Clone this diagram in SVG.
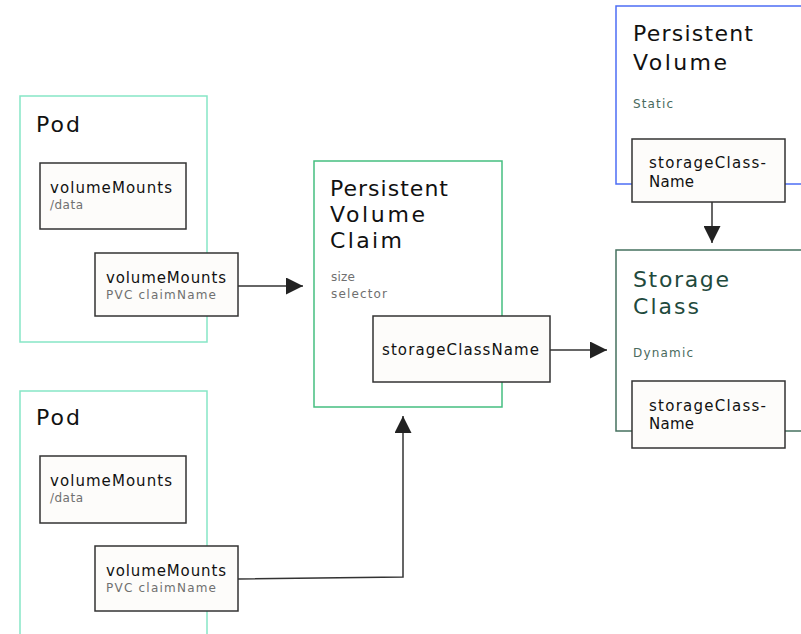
<svg xmlns="http://www.w3.org/2000/svg" width="801" height="634" viewBox="0 0 801 634">
  <defs>
    <marker id="arrow" viewBox="0 0 10 10" refX="10" refY="5" markerWidth="17" markerHeight="17" markerUnits="userSpaceOnUse" orient="auto">
      <path d="M0,0 L10,5 L0,10 z" fill="#222"/>
    </marker>
    <style>
      text { font-family: "DejaVu Sans", "Open Sans", sans-serif; }
      .frame { fill: none; stroke-width: 1.5; }
      .pod { stroke: #86e6c6; }
      .pvc { stroke: #45be80; }
      .pv { stroke: #4d6ef5; }
      .sc { stroke: #46715f; }
      .field { fill: #fdfcfa; stroke: #333; stroke-width: 1.5; }
      .title { font-size: 22px; fill: #111; }
      .title-sc { font-size: 22px; fill: #1f4a3d; }
      .key { font-size: 15px; fill: #111; }
      .sub { font-size: 12px; fill: #707070; }
      .sub-dark { font-size: 12px; fill: #4a6a5e; }
      .conn { fill: none; stroke: #333; stroke-width: 1.5; }
    </style>
  </defs>
  <rect width="801" height="634" fill="#ffffff"/>

  <!-- Pod (top) -->
  <g id="pod-1">
    <rect class="frame pod" x="20" y="96" width="187" height="246"/>
    <text class="title" x="36" y="132" textLength="44">Pod</text>
    <rect class="field" x="40" y="163" width="146" height="66"/>
    <text class="key" x="50" y="193" textLength="122">volumeMounts</text>
    <text class="sub" x="50" y="209" textLength="33">/data</text>
    <rect class="field" x="95" y="253" width="143" height="63"/>
    <text class="key" x="106" y="283" textLength="120">volumeMounts</text>
    <text class="sub" x="106" y="299" textLength="110">PVC claimName</text>
  </g>

  <!-- Pod (bottom) -->
  <g id="pod-2">
    <rect class="frame pod" x="20" y="391" width="187" height="260"/>
    <text class="title" x="36" y="425" textLength="44">Pod</text>
    <rect class="field" x="40" y="456" width="146" height="67"/>
    <text class="key" x="50" y="486" textLength="122">volumeMounts</text>
    <text class="sub" x="50" y="502" textLength="33">/data</text>
    <rect class="field" x="95" y="546" width="143" height="65"/>
    <text class="key" x="106" y="576" textLength="120">volumeMounts</text>
    <text class="sub" x="106" y="592" textLength="110">PVC claimName</text>
  </g>

  <!-- PersistentVolumeClaim -->
  <g id="pvc">
    <rect class="frame pvc" x="314" y="161" width="188" height="246"/>
    <text class="title" x="330" y="196" textLength="118">Persistent</text>
    <text class="title" x="330" y="222" textLength="95">Volume</text>
    <text class="title" x="330" y="248" textLength="72">Claim</text>
    <text class="sub" x="331" y="281" textLength="24">size</text>
    <text class="sub" x="331" y="298" textLength="56">selector</text>
    <rect class="field" x="373" y="316" width="177" height="66"/>
    <text class="key" x="382" y="355" textLength="157">storageClassName</text>
  </g>

  <!-- PersistentVolume -->
  <g id="pv">
    <rect class="frame pv" x="616" y="6" width="200" height="178"/>
    <text class="title" x="633" y="41" textLength="120">Persistent</text>
    <text class="title" x="633" y="70" textLength="94">Volume</text>
    <text class="sub-dark" x="633" y="108" textLength="40">Static</text>
    <rect class="field" x="632" y="139" width="153" height="63"/>
    <text class="key" x="649" y="168" textLength="117">storageClass-</text>
    <text class="key" x="649" y="187" textLength="45">Name</text>
  </g>

  <!-- StorageClass -->
  <g id="storage-class">
    <rect class="frame sc" x="616" y="250" width="200" height="181"/>
    <text class="title-sc" x="633" y="287" textLength="96">Storage</text>
    <text class="title-sc" x="633" y="314" textLength="66">Class</text>
    <text class="sub-dark" x="633" y="357" textLength="60">Dynamic</text>
    <rect class="field" x="632" y="381" width="153" height="67"/>
    <text class="key" x="649" y="411" textLength="117">storageClass-</text>
    <text class="key" x="649" y="429" textLength="45">Name</text>
  </g>

  <!-- Connectors -->
  <g id="connectors">
    <path class="conn" d="M238,286 H303" marker-end="url(#arrow)"/>
    <path class="conn" d="M238,579 L403,577 V416" marker-end="url(#arrow)"/>
    <path class="conn" d="M550,350 H607" marker-end="url(#arrow)"/>
    <path class="conn" d="M712,202 V243" marker-end="url(#arrow)"/>
  </g>
</svg>
